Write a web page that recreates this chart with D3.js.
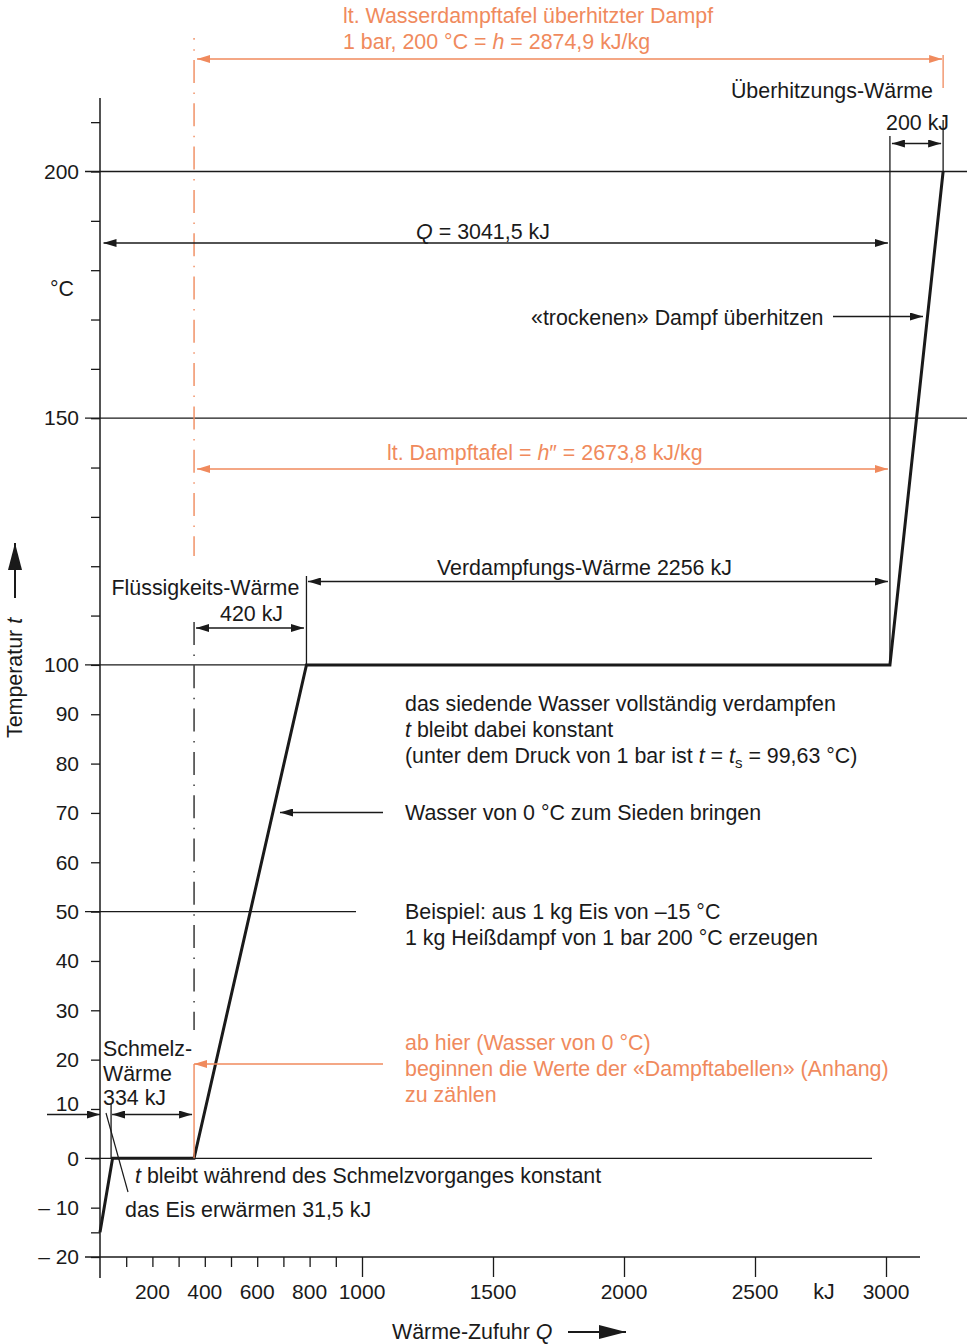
<!DOCTYPE html>
<html>
<head>
<meta charset="utf-8">
<script src="https://cdn.jsdelivr.net/npm/d3@7"></script>
<style>
  body { margin: 0; background: #fff; }
  svg { display: block; font-family: "Liberation Sans", Arial, Helvetica, sans-serif; font-size: 21.4px; }
</style>
</head>
<body>
<div id="chart"></div>
<script>
const heatQ = [0, 48, 359, 788, 3015, 3218];
const tempT = [-15, 0, 0, 100, 100, 200];

const yLabelTicks = [-20, -10, 0, 10, 20, 30, 40, 50, 60, 70, 80, 90, 100, 150, 200];
const yMinorTicks = [-15, 110, 120, 130, 140, 160, 170, 180, 190, 210];
const xMinorTicks = [100, 200, 300, 400, 500, 600, 700, 800, 900];
const xMajorTicks = [1000, 1500, 2000, 2500, 3000];
const xLabelTicks = [200, 400, 600, 800, 1000, 1500, 2000, 2500, 3000];
const gridTemps = [200, 150, 100, 50, 0];

const ink = '#1a1a1a';
const orange = '#f08a5d';

const svg = d3.select('#chart').append('svg')
    .attr('width', 967)
    .attr('height', 1344);

const x = d3.scaleLinear().domain([0, 3000]).range([100, 886]);
const y = d3.scaleLinear().domain([-20, 200]).range([1257, 171.5]);

// arrow heads
const defs = svg.append('defs');
function marker(id, color, len, hw) {
  defs.append('marker')
      .attr('id', id)
      .attr('viewBox', `0 0 ${len} ${2 * hw}`)
      .attr('refX', len).attr('refY', hw)
      .attr('markerWidth', len).attr('markerHeight', 2 * hw)
      .attr('markerUnits', 'userSpaceOnUse')
      .attr('orient', 'auto-start-reverse')
    .append('path')
      .attr('d', `M0,0L${len},${hw}L0,${2 * hw}Z`)
      .attr('fill', color);
}
marker('ah', ink, 13, 4);
marker('ahO', orange, 13, 4);
marker('big', ink, 27, 7);

function line(x1, y1, x2, y2, opts = {}) {
  const l = svg.append('line')
      .attr('x1', x1).attr('y1', y1).attr('x2', x2).attr('y2', y2)
      .attr('stroke', opts.color || ink)
      .attr('stroke-width', opts.w || 1.3);
  if (opts.dash) l.attr('stroke-dasharray', opts.dash);
  if (opts.offset) l.attr('stroke-dashoffset', opts.offset);
  const m = opts.color === orange ? 'ahO' : 'ah';
  if (opts.start) l.attr('marker-start', `url(#${opts.start === true ? m : opts.start})`);
  if (opts.end) l.attr('marker-end', `url(#${opts.end === true ? m : opts.end})`);
  return l;
}

function label(xp, yp, parts, opts = {}) {
  const t = svg.append('text')
      .attr('x', xp).attr('y', yp)
      .attr('fill', opts.color || ink)
      .attr('text-anchor', opts.anchor || 'start');
  let shifted = false;
  parts.forEach(p => {
    if (typeof p === 'string') p = {t: p};
    const s = t.append('tspan').text(p.t);
    if (p.i) s.attr('font-style', 'italic');
    if (p.sub) { s.attr('dy', 5).attr('font-size', 15); shifted = true; }
    else if (shifted) { s.attr('dy', -5); shifted = false; }
  });
  return t;
}

// grid lines at labelled temperatures
const gridEnd = {200: 967, 150: 967, 100: x(heatQ[4]), 50: 356, 0: 872};
svg.selectAll('.grid')
  .data(gridTemps)
  .join('line')
    .attr('class', 'grid')
    .attr('x1', 85)
    .attr('x2', d => gridEnd[d])
    .attr('y1', d => y(d))
    .attr('y2', d => y(d))
    .attr('stroke', ink)
    .attr('stroke-width', 1.3);

// y axis
const yAxis = d3.axisLeft(y)
    .tickValues(yLabelTicks.concat(yMinorTicks))
    .tickSize(9)
    .tickPadding(12)
    .tickFormat(d => yLabelTicks.includes(d) ? (d < 0 ? '\u2013 ' + (-d) : d) : '');
svg.append('g')
    .attr('transform', `translate(${x(0)},0)`)
    .call(yAxis)
    .call(g => g.select('.domain').remove())
    .call(g => g.selectAll('line').attr('stroke', ink).attr('stroke-width', 1.3))
    .call(g => g.selectAll('text').attr('fill', ink).attr('font-size', 21)
        .attr('font-family', '"Liberation Sans", Arial, sans-serif')
        .attr('y', d => d === 10 ? -5 : 0));
line(x(0), 98, x(0), 1278, {w: 1.5});

// x axis
const xAxis = d3.axisBottom(x)
    .tickValues(xMinorTicks.concat(xMajorTicks))
    .tickSize(10)
    .tickFormat('');
svg.append('g')
    .attr('transform', `translate(0,${y(-20)})`)
    .call(xAxis)
    .call(g => g.select('.domain').remove())
    .call(g => g.selectAll('.tick line').attr('stroke', ink).attr('stroke-width', 1.3)
        .attr('y2', d => d >= 1000 ? 20 : 10));
line(85, y(-20), 920, y(-20), {w: 1.5});

svg.selectAll('.xlab')
  .data(xLabelTicks)
  .join('text')
    .attr('class', 'xlab')
    .attr('x', d => x(d))
    .attr('y', 1298.5)
    .attr('text-anchor', 'middle')
    .attr('font-size', 21)
    .attr('fill', ink)
    .text(d => d);
label(824, 1298.5, ['kJ'], {anchor: 'middle'});

// axis titles
label(392, 1339, ['Wärme-Zufuhr ', {t: 'Q', i: true}]);
line(568, 1332, 626, 1332, {w: 2, end: 'big'});
label(0, 0, ['Temperatur ', {t: 't', i: true}])
    .attr('transform', 'translate(22,738) rotate(-90)');
line(15, 598, 15, 543, {w: 2, end: 'big'});
label(50, 295.5, ['°C']);

// heating curve
const pts = heatQ.map((q, i) => ({q: q, t: tempT[i]}));
svg.append('path')
    .datum(pts)
    .attr('d', d3.line().x(d => x(d.q)).y(d => y(d.t)))
    .attr('fill', 'none')
    .attr('stroke', ink)
    .attr('stroke-width', 3)
    .attr('stroke-linejoin', 'miter');

// dash-dot reference line at start of water phase
const xs = x(heatQ[2]);
line(xs, 38, xs, 556, {color: orange, w: 1.4, dash: '23 9.5 1.5 9.3', offset: 21.3});
line(xs, 622, xs, 1030, {w: 1.3, dash: '23 9.5 1.5 9.3'});
line(xs, y(0), xs, 1064, {color: orange, w: 1.4});
line(383, 1064, xs, 1064, {color: orange, w: 1.3, end: true});

// top orange dimension (superheated steam table)
line(x(heatQ[5]), 55, x(heatQ[5]), 88, {color: orange, w: 1.3});
line(xs + 3, 59, x(heatQ[5]) - 1, 59, {color: orange, w: 1.3, start: true, end: true});
label(343, 22.5, ['lt. Wasserdampftafel überhitzter Dampf'], {color: orange});
label(343, 48.5, ['1 bar, 200 °C = ', {t: 'h', i: true}, ' = 2874,9 kJ/kg'], {color: orange});

// superheating
label(933, 98, ['Überhitzungs-Wärme'], {anchor: 'end'});
label(886, 129.5, ['200 kJ']);
line(x(heatQ[4]), 136, x(heatQ[4]), y(100));
line(x(heatQ[5]), 120, x(heatQ[5]), y(200));
line(x(heatQ[4]) + 2, 143.5, x(heatQ[5]) - 2, 143.5, {start: true, end: true});

// total heat
line(x(0) + 3.5, 243, x(heatQ[4]) - 2, 243, {start: true, end: true});
label(483, 239, [{t: 'Q', i: true}, ' = 3041,5 kJ'], {anchor: 'middle'});

label(531, 324.5, ['«trockenen» Dampf überhitzen']);
line(833, 316.5, 923, 316.5, {end: true});

// saturated steam enthalpy
line(xs + 3, 469, x(heatQ[4]) - 2, 469, {color: orange, w: 1.3, start: true, end: true});
label(387, 459.5, ['lt. Dampftafel = ', {t: 'h', i: true}, '\u2033 = 2673,8 kJ/kg'], {color: orange});

// evaporation
line(x(heatQ[3]), 576, x(heatQ[3]), y(100));
line(x(heatQ[3]) + 1.5, 581.5, x(heatQ[4]) - 2, 581.5, {start: true, end: true});
label(437, 574.5, ['Verdampfungs-Wärme 2256 kJ']);

// liquid heat
label(111.5, 595, ['Flüssigkeits-Wärme']);
label(220, 620.5, ['420 kJ']);
line(xs + 2, 628, x(heatQ[3]) - 2.5, 628, {start: true, end: true});

// notes
label(405, 711, ['das siedende Wasser vollständig verdampfen']);
label(405, 737, [{t: 't', i: true}, ' bleibt dabei konstant']);
label(405, 762.5, ['(unter dem Druck von 1 bar ist ', {t: 't', i: true}, ' = ', {t: 't', i: true},
    {t: 's', sub: true}, ' = 99,63 °C)']);
label(405, 820, ['Wasser von 0 °C zum Sieden bringen']);
line(383, 812.5, 280, 812.5, {end: true});

label(405, 919, ['Beispiel: aus 1 kg Eis von \u201315 °C']);
label(405, 945, ['1 kg Heißdampf von 1 bar 200 °C erzeugen']);

label(405, 1050, ['ab hier (Wasser von 0 °C)'], {color: orange});
label(405, 1076, ['beginnen die Werte der «Dampftabellen» (Anhang)'], {color: orange});
label(405, 1102, ['zu zählen'], {color: orange});

// melting
label(103, 1055.5, ['Schmelz-']);
label(103, 1080.5, ['Wärme']);
label(103, 1105, ['334 kJ']);
line(x(heatQ[1]) - 1.5, 1104, x(heatQ[1]) - 1.5, y(0));
line(47, 1114.5, x(0), 1114.5, {end: true});
line(x(heatQ[1]) - 0.5, 1114.5, xs - 2, 1114.5, {start: true, end: true});
line(106, 1113, 128, 1192, {w: 1.2});

label(135, 1183, [{t: 't', i: true}, ' bleibt während des Schmelzvorganges konstant']);
label(125, 1217, ['das Eis erwärmen 31,5 kJ']);
</script>
</body>
</html>
